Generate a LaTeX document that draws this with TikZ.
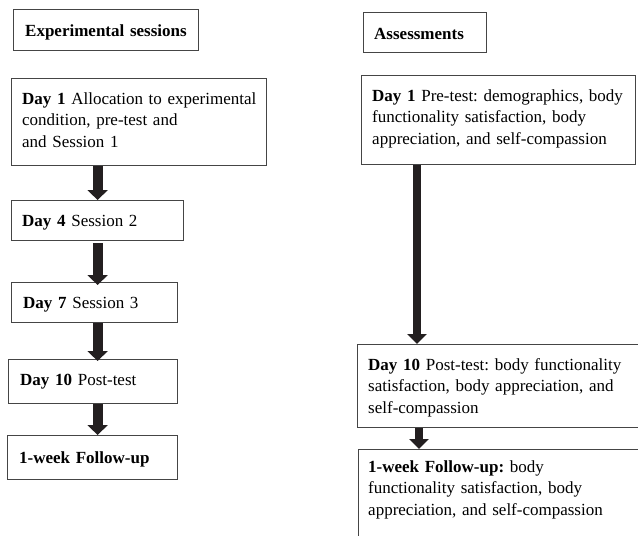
\documentclass[tikz,border=0pt]{standalone}
\usepackage{fontspec}
\setmainfont{Liberation Serif}
\usetikzlibrary{arrows.meta}
\definecolor{boxgray}{HTML}{454545}
\definecolor{arrowblk}{HTML}{231F20}
\frenchspacing
\begin{document}
\begin{tikzpicture}[x=1pt,y=-1pt,
  box/.style={draw=boxgray, line width=1.2pt, rectangle, inner sep=0pt, anchor=north west},
  txt/.style={anchor=base west, inner sep=0pt, align=left, text width=300pt,
    font=\fontsize{17}{21.5}\selectfont},
  arrL/.style={draw=arrowblk, line width=10pt, -{Triangle[width=20pt,length=10pt]}},
  arrR/.style={draw=arrowblk, line width=8.5pt, -{Triangle[width=19pt,length=10pt]}}
]
\useasboundingbox (0,0) rectangle (638,536);
\clip (0,0) rectangle (638,536);
\fill[white] (0,0) rectangle (638,536);

% left column boxes
\node[box, minimum width=185pt, minimum height=41pt] (tl) at (13,9) {};
\node[box, minimum width=255pt, minimum height=87pt] (d1) at (11,78) {};
\node[box, minimum width=172pt, minimum height=40pt] (d4) at (11,200) {};
\node[box, minimum width=166pt, minimum height=40pt] (d7) at (11,282) {};
\node[box, minimum width=169pt, minimum height=44pt] (d10) at (8,359) {};
\node[box, minimum width=170pt, minimum height=44pt] (fu) at (7,435) {};

% right column boxes
\node[box, minimum width=123pt, minimum height=40pt] (tr) at (363,12) {};
\node[box, minimum width=274pt, minimum height=89pt] (r1) at (361,75) {};
\node[box, minimum width=300pt, minimum height=83pt] (r10) at (357,344) {};
\node[box, minimum width=300pt, minimum height=120pt] (rfu) at (358,449) {};

% texts
\node[txt] (tlt) at (25,36) {\textbf{Experimental sessions}};
\node[txt] (d1t) at (22,104) {\textbf{Day 1} Allocation to experimental\\condition, pre-test and\\and Session 1};
\node[txt] (d4t) at (22,226) {\textbf{Day 4} Session 2};
\node[txt] (d7t) at (23,308) {\textbf{Day 7} Session 3};
\node[txt] (d10t) at (20,385) {\textbf{Day 10} Post-test};
\node[txt] (fut) at (19,463) {\textbf{1-week Follow-up}};

\node[txt] (trt) at (374,39) {\textbf{Assessments}};
\node[txt] (r1t) at (372,101) {\textbf{Day 1} Pre-test: demographics, body\\functionality satisfaction, body\\appreciation, and self-compassion};
\node[txt] (r10t) at (368,370) {\textbf{Day 10} Post-test: body functionality\\satisfaction, body appreciation, and\\self-compassion};
\node[txt] (rfut) at (368,472) {\textbf{1-week Follow-up:} body\\functionality satisfaction, body\\appreciation, and self-compassion};

% left arrows
\draw[arrL] (d1.south -| d4.north) -- (d4.north);
\draw[arrL] ([yshift=-2pt]d4.south) -- ([yshift=-3pt]d7.north -| d4.south);
\draw[arrL] (d7.south -| d4.south) -- ([yshift=-2pt]d10.north -| d4.south);
\draw[arrL] (d10.south -| d4.south) -- (fu.north -| d4.south);

% right arrows
\draw[arrR] ([xshift=56pt]r1.south west) -- ([xshift=60pt]r10.north west);
\draw[arrR] ([xshift=62pt]r10.south west) -- ([xshift=61pt]rfu.north west);
\end{tikzpicture}
\end{document}
